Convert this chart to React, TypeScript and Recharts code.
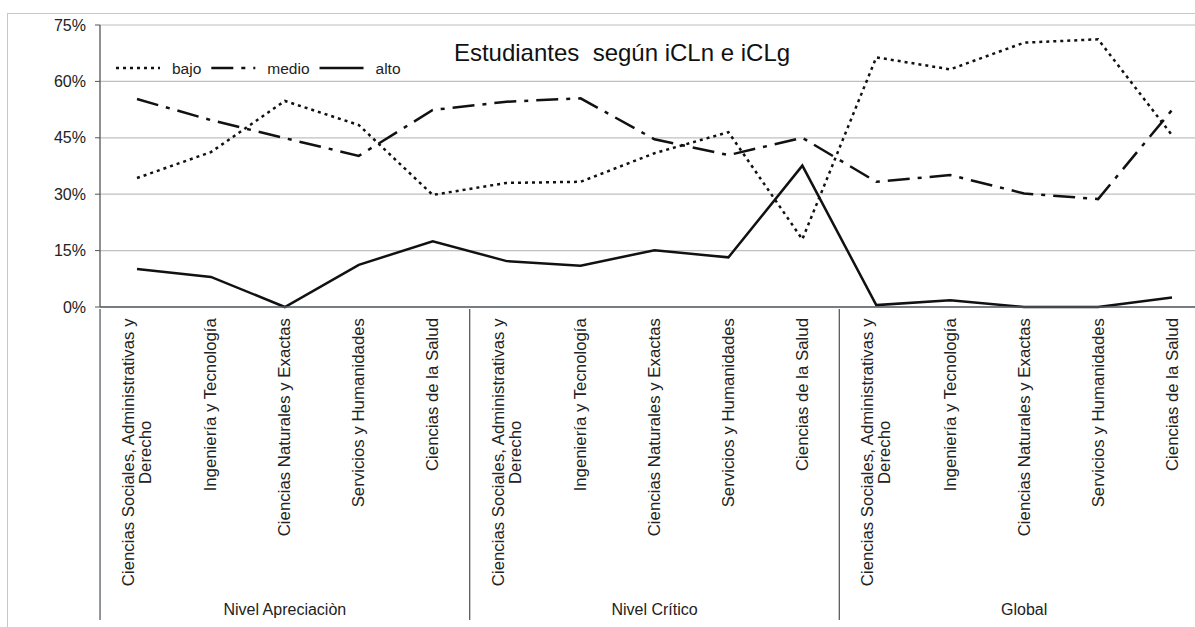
import { CartesianGrid, Line, LineChart, XAxis, YAxis } from "recharts"

const areas = [
  ["Ciencias Sociales, Administrativas y", "Derecho"],
  ["Ingeniería y Tecnología"],
  ["Ciencias Naturales y Exactas"],
  ["Servicios y Humanidades"],
  ["Ciencias de la Salud"],
]
const levels = ["Nivel Apreciaciòn", "Nivel Crítico", "Global"]

const bajo = [34.3, 41.2, 54.8, 48.4, 29.8, 33.0, 33.3, 40.9, 46.5, 18.0, 66.4, 63.2, 70.3, 71.2, 45.7]
const medio = [55.3, 49.7, 44.9, 40.2, 52.4, 54.6, 55.5, 44.6, 40.4, 45.0, 33.3, 35.1, 30.2, 28.7, 52.4]
const alto = [10.1, 8.0, 0, 11.2, 17.5, 12.2, 11.0, 15.1, 13.2, 37.6, 0.5, 1.8, 0, 0, 2.5]

const yTicks = [0, 15, 30, 45, 60, 75]

const series = [
  { key: "bajo", name: "bajo", dash: "3 4" },
  { key: "medio", name: "medio", dash: "22 8 4 8" },
  { key: "alto", name: "alto", dash: undefined },
]

const data = levels.flatMap((level, g) =>
  areas.map((lines, a) => {
    const i = g * areas.length + a
    return { id: String(i), level, lines, bajo: bajo[i], medio: medio[i], alto: alto[i] }
  })
)

const FONT = '"Liberation Sans", Arial, sans-serif'
const CHART_W = 1211
const CHART_H = 627
const Y_W = 100
const M_RIGHT = 2
const PAD = 37
const STEP = (CHART_W - Y_W - M_RIGHT - 2 * PAD) / (data.length - 1)
const LABEL_TOP = 318
const AXIS_BOTTOM = 620

let ctx: CanvasRenderingContext2D | null = null
function textWidth(text: string, size: number) {
  if (!ctx) ctx = document.createElement("canvas").getContext("2d")
  if (!ctx) return text.length * size * 0.5
  ctx.font = `${size}px ${FONT}`
  return ctx.measureText(text).width
}

function CategoryTick(props: any) {
  const { x, y, index } = props
  const row = data[index]
  if (!row) return null
  const size = 16.8
  const lines: string[] = row.lines
  const maxW = Math.max(...lines.map((l) => textWidth(l, size)))
  const pos = index % areas.length
  return (
    <g>
      <g transform={`translate(${x},${LABEL_TOP + maxW / 2}) rotate(-90)`}>
        {lines.map((l, k) => (
          <text
            key={k}
            x={0}
            y={(k - (lines.length - 1) / 2) * 17}
            textAnchor="middle"
            dominantBaseline="central"
            fontSize={size}
            fontFamily={FONT}
            fill="#222"
          >
            {l}
          </text>
        ))}
      </g>
      {pos === 0 && (
        <line x1={x - STEP / 2} x2={x - STEP / 2} y1={y} y2={AXIS_BOTTOM} stroke="#555d66" strokeWidth={1.3} />
      )}
      {pos === 2 && (
        <text x={x} y={615} textAnchor="middle" fontSize={16} fontFamily={FONT} fill="#222">
          {row.level}
        </text>
      )}
    </g>
  )
}

function LegendBox() {
  let cx = 0
  const parts = series.map((s) => {
    const tw = textWidth(s.name, 15.5)
    const x0 = cx
    cx += 44 + 12 + tw + 10
    return (
      <g key={s.key}>
        <line x1={x0} x2={x0 + 44} y1={10} y2={10} stroke="#111" strokeWidth={2.5} strokeDasharray={s.dash} />
        <text x={x0 + 56} y={10} dominantBaseline="central" fontSize={15.5} fontFamily={FONT} fill="#222">
          {s.name}
        </text>
      </g>
    )
  })
  return (
    <svg width={320} height={20} style={{ position: "absolute", left: 116, top: 58, display: "block" }}>
      {parts}
    </svg>
  )
}

export default function App() {
  return (
    <div
      style={{
        position: "fixed",
        left: 0,
        top: 0,
        width: 1195,
        height: 627,
        overflow: "hidden",
        background: "#fff",
      }}
    >
      <div
        style={{
          position: "absolute",
          left: 7,
          top: 13,
          width: 1300,
          height: 700,
          border: "1px solid #c8c8c8",
        }}
      />
      <div style={{ position: "absolute", left: 0, top: 0 }}>
        <LineChart width={CHART_W} height={CHART_H} data={data} margin={{ top: 25, right: M_RIGHT, left: 0, bottom: 0 }}>
          <CartesianGrid vertical={false} stroke="#c0c0c0" strokeWidth={1.2} />
          <XAxis
            dataKey="id"
            interval={0}
            padding={{ left: PAD, right: PAD }}
            height={CHART_H - 25 - 282}
            tickLine={false}
            tickSize={0}
            tick={<CategoryTick />}
            axisLine={{ stroke: "#555d66", strokeWidth: 1.3 }}
          />
          <YAxis
            width={Y_W}
            domain={[0, 75]}
            ticks={yTicks}
            tickFormatter={(v) => `${v}%`}
            tickSize={5}
            tickMargin={9}
            tick={{ fontSize: 16, fontFamily: FONT, fill: "#222" }}
            tickLine={{ stroke: "#555" }}
            axisLine={{ stroke: "#555", strokeWidth: 1.3 }}
          />
          {series.map((s) => (
            <Line
              key={s.key}
              type="linear"
              dataKey={s.key}
              name={s.name}
              stroke="#111"
              strokeWidth={2.5}
              strokeDasharray={s.dash}
              dot={false}
              activeDot={false}
              isAnimationActive={false}
            />
          ))}
        </LineChart>
      </div>
      <LegendBox />
      <div
        style={{
          position: "absolute",
          left: 0,
          top: 41,
          width: 1244,
          textAlign: "center",
          fontFamily: FONT,
          fontSize: 24,
          lineHeight: "24px",
          whiteSpace: "pre",
          color: "#111",
        }}
      >
        Estudiantes  según iCLn e iCLg
      </div>
    </div>
  )
}
